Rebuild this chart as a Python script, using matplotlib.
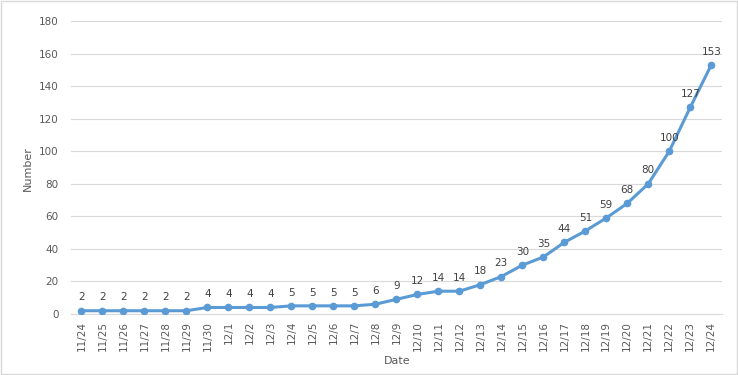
import matplotlib.pyplot as plt
from matplotlib.patches import Rectangle

# dates et valeurs
dates = ["11/24", "11/25", "11/26", "11/27", "11/28", "11/29", "11/30",
         "12/1", "12/2", "12/3", "12/4", "12/5", "12/6", "12/7", "12/8",
         "12/9", "12/10", "12/11", "12/12", "12/13", "12/14", "12/15",
         "12/16", "12/17", "12/18", "12/19", "12/20", "12/21", "12/22",
         "12/23", "12/24"]
valeurs = [2, 2, 2, 2, 2, 2, 4, 4, 4, 4, 5, 5, 5, 5, 6, 9, 12, 14, 14, 18,
           23, 30, 35, 44, 51, 59, 68, 80, 100, 127, 153]
graduations_y = [0, 20, 40, 60, 80, 100, 120, 140, 160, 180]

gris_texte = "#595959"
bleu = "#5B9BD5"

fig = plt.figure(figsize=(7.38, 3.75), dpi=100)
fig.patches.append(Rectangle((0.002, 0.003), 0.996, 0.994, transform=fig.transFigure,
                             fill=False, edgecolor="#D9D9D9", linewidth=1))
ax = fig.add_axes([0.0962, 0.1627, 0.8818, 0.7813])

x = list(range(len(dates)))
ax.plot(x, valeurs, color=bleu, linewidth=2.2, marker="o", markersize=4.5, zorder=3)

# étiquettes de données au-dessus des points
for xi, v in zip(x, valeurs):
    ax.annotate(str(v), (xi, v), xytext=(0, 6), textcoords="offset points",
                ha="center", va="bottom", fontsize=7.5, color="#404040")

ax.set_xlim(-0.5, len(dates) - 0.5)
ax.set_ylim(0, 180)
ax.set_yticks(graduations_y)
ax.set_xticks(x)
ax.set_xticklabels(dates, rotation=90)
ax.tick_params(axis="both", length=0, labelsize=7.5, labelcolor=gris_texte)
ax.tick_params(axis="y", pad=9)
ax.tick_params(axis="x", pad=5)
ax.grid(axis="y", color="#D9D9D9", linewidth=0.8)
ax.set_axisbelow(True)
for s in ["top", "right", "left"]:
    ax.spines[s].set_visible(False)
ax.spines["bottom"].set_color("#D9D9D9")

fig.text(0.538, 0.037, "Date", ha="center", va="center", fontsize=8, color=gris_texte)
fig.text(0.038, 0.55, "Number", ha="center", va="center", rotation=90,
         fontsize=8, color=gris_texte)

plt.savefig("out.png", dpi=100)
